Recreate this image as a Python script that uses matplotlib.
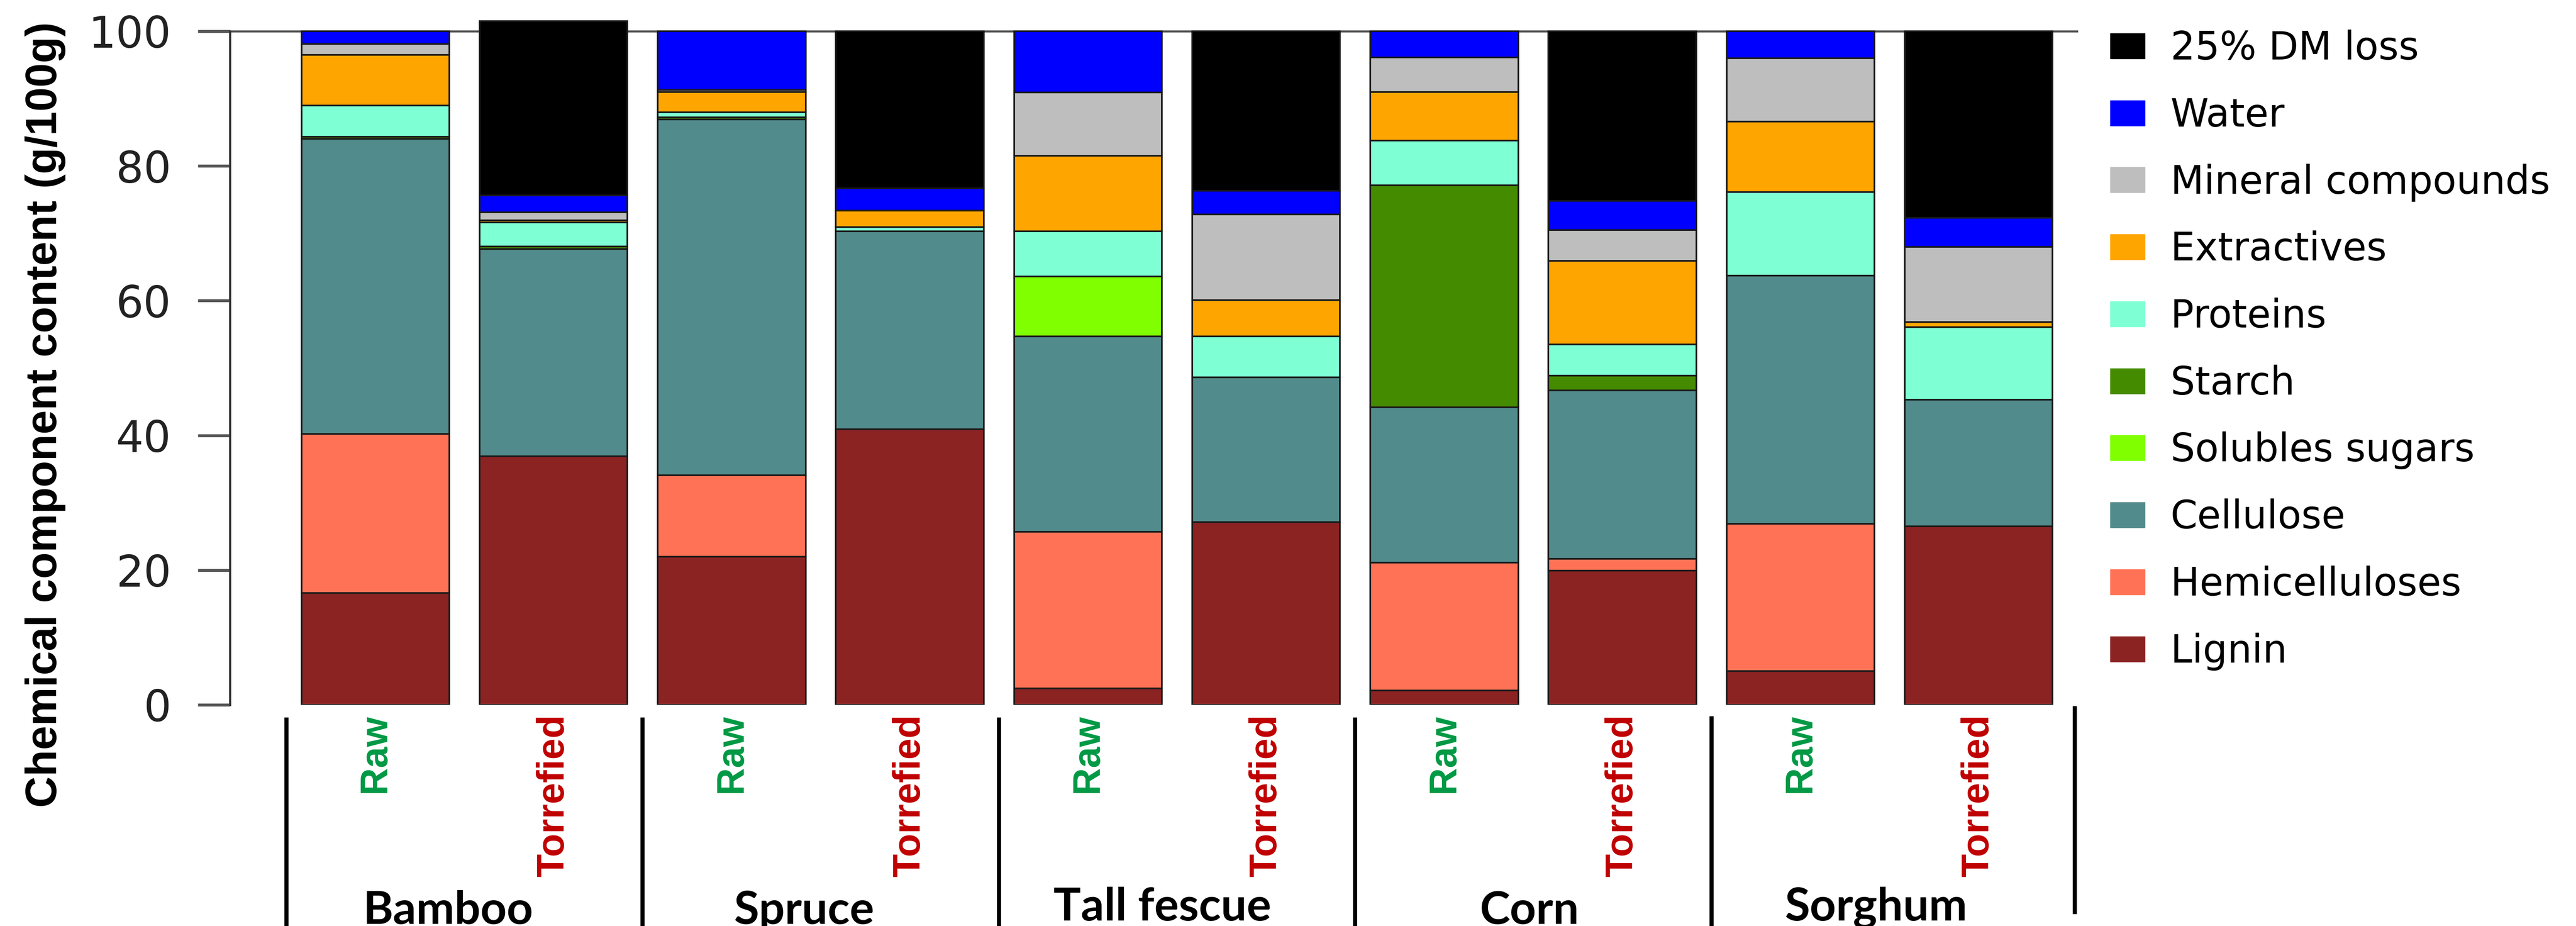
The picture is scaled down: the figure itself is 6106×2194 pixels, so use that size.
import numpy as np
import matplotlib
matplotlib.use("Agg")
import matplotlib.pyplot as plt
from matplotlib.patches import Patch

# ---------------- data ----------------
groups = ["Bamboo", "Spruce", "Tall fescue", "Corn", "Sorghum"]
states = ["Raw", "Torrefied"] * 5

components = ["Lignin", "Hemicelluloses", "Cellulose", "Solubles sugars", "Starch",
              "Proteins", "Extractives", "Mineral compounds", "Water", "25% DM loss"]
colors = ["#8B2323", "#FF7256", "#528B8B", "#7FFF00", "#458B00",
          "#7FFFD4", "#FFA500", "#BEBEBE", "#0000FF", "#000000"]

# bars order: Bamboo raw, Bamboo torr, Spruce raw, Spruce torr, Tall fescue raw, ...
lignin      = [16.6, 36.9, 22.0, 40.9,  2.45, 27.1,  2.1, 19.9,  5.0, 26.5]
hemicell    = [23.6,  0.0, 12.1,  0.0, 23.25,  0.0, 19.0,  1.8, 21.9,  0.0]
cellulose   = [43.8, 30.8, 52.8, 29.4, 29.0,  21.5, 23.1, 25.0, 36.8, 18.8]
sugars      = [ 0.0,  0.0,  0.0,  0.0,  8.9,   0.0,  0.0,  0.0,  0.0,  0.0]
starch      = [ 0.35, 0.35, 0.3,  0.0,  0.0,   0.0, 32.9,  2.2,  0.0,  0.0]
proteins    = [ 4.65, 3.55, 0.8,  0.6,  6.7,   6.1,  6.7,  4.6, 12.4, 10.8]
extractives = [ 7.5,  0.3,  3.0,  2.5, 11.2,   5.4,  7.2, 12.4, 10.5,  0.7]
minerals    = [ 1.6,  1.2,  0.3,  0.0,  9.4,  12.7,  5.1,  4.6,  9.4, 11.2]
water       = [ 1.9,  2.5,  8.7,  3.3,  9.1,   3.5,  3.9,  4.3,  4.0,  4.3]
dm_loss     = [ 0.0, 25.9,  0.0, 23.3,  0.0,  23.7,  0.0, 25.2,  0.0, 27.7]

series = [lignin, hemicell, cellulose, sugars, starch, proteins,
          extractives, minerals, water, dm_loss]

yticks = [0, 20, 40, 60, 80, 100]

# ---------------- figure ----------------
W, H, DPI = 6106, 2194, 100
fig = plt.figure(figsize=(W / DPI, H / DPI), dpi=DPI)
fig.patch.set_facecolor("white")

px_per_unit = 15.96
y0_px = 1670
ax_left_px, ax_right_px = 545, 4926
ymax = 102
ax = fig.add_axes([ax_left_px / W, (H - y0_px) / H,
                   (ax_right_px - ax_left_px) / W, ymax * px_per_unit / H])

x = np.arange(len(states))
bottom = np.zeros(len(states))
for vals, col, name in zip(series, colors, components):
    v = np.array(vals, dtype=float)
    lws = [2.8 if t > 0 else 0 for t in v]
    ax.bar(x, v, width=0.83, bottom=bottom, color=col, edgecolor="#1a1a1a",
           linewidth=lws, zorder=2)
    bottom += v

ax.set_xlim(-0.817, 9.559)
ax.set_ylim(0, ymax)
ax.axhline(100, color="#555555", lw=3.5, zorder=1)

for s in ["top", "right", "bottom"]:
    ax.spines[s].set_visible(False)
ax.spines["left"].set_bounds(0, 100)
ax.spines["left"].set_color("#333333")
ax.spines["left"].set_linewidth(3.6)
ax.set_xticks([])
ax.set_yticks(yticks)
ax.set_yticklabels([str(t) for t in yticks])
ax.tick_params(axis="y", length=55, width=5, color="#555555", pad=45,
               labelsize=74, labelcolor="#222222")
for lab in ax.get_yticklabels():
    lab.set_family("DejaVu Sans")

fig.text(108 / W, 1 - 982 / H, "Chemical component content (g/100g)",
         rotation=90, ha="center", va="center", fontsize=74,
         fontweight="bold", family=["Liberation Sans", "DejaVu Sans"])

# state labels under each bar
state_colors = {"Raw": "#009944", "Torrefied": "#C00000"}
for xi, st in zip(x, states):
    ax.text(xi, -1.38, st, rotation=90, ha="center", va="top", fontsize=65,
            fontweight="bold", color=state_colors[st],
            family=["Liberation Sans", "DejaVu Sans"], clip_on=False)

# group separators
sep_x = [-0.5, 1.5, 3.5, 5.5, 7.5, 9.54]
sep_top = [-1.9, -1.9, -1.9, -1.9, -1.7, -0.2]
sep_bot = [-34, -34, -34, -34, -34, -31.1]
for sx, st_, sb in zip(sep_x, sep_top, sep_bot):
    ax.plot([sx, sx], [st_, sb], color="black", lw=7, clip_on=False,
            solid_capstyle="butt")

# group labels
grp_x = [0.407, 2.406, 4.417, 6.48, 8.425]
grp_y = [-32.5, -32.5, -32.0, -32.5, -32.0]
for gx, gy, g in zip(grp_x, grp_y, groups):
    ax.text(gx, gy, g, ha="center", va="baseline", fontsize=78,
            fontweight="bold", family=["Lato", "DejaVu Sans"], clip_on=False)

# legend
handles = [Patch(facecolor=c, edgecolor=c, label=n)
           for n, c in zip(components, colors)][::-1]
fig.legend(handles=handles, loc="upper left",
           bbox_to_anchor=(5002 / W, 1 - 70 / H), frameon=False,
           prop={"family": "DejaVu Sans", "size": 66},
           handlelength=0.89, handleheight=0.63, handletextpad=0.67,
           labelspacing=0.75, borderpad=0, borderaxespad=0)

fig.savefig("out.png", dpi=DPI)
